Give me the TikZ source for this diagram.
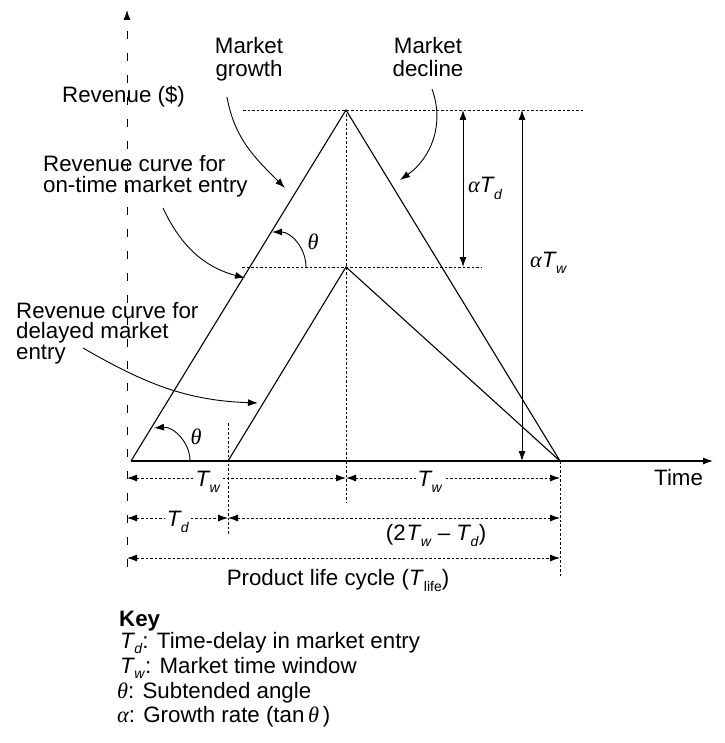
\documentclass[tikz,border=0pt]{standalone}
\usepackage{fontspec}
\setmainfont{Liberation Sans}
\newfontfamily\grk{Liberation Serif}
\usetikzlibrary{arrows.meta}
\newcommand{\Tsub}[1]{\textit{T}\kern-0.8pt\raisebox{-6.5pt}{\fontsize{14}{14}\selectfont\textit{#1}}}
\newcommand{\Tkey}[1]{\textit{T}\kern-0.8pt\raisebox{-5pt}{\fontsize{14}{14}\selectfont\textit{#1}}}
\newcommand{\gth}{{\grk\itshape θ}}
\newcommand{\gal}{{\grk\itshape α}}
\begin{document}
\begin{tikzpicture}[x=1pt,y=1pt,
  lbl/.style={font=\fontsize{22.3}{22}\selectfont, inner sep=0pt},
  dotl/.style={dash pattern=on 2.5pt off 2pt, line width=0.9pt},
  axisdash/.style={dash pattern=on 8pt off 14pt, line width=0.9pt},
  solidl/.style={line width=1.1pt},
  cuta/.style={line width=0.9pt},
  >={Latex[length=10pt,width=7pt]}]
\useasboundingbox (0,0) rectangle (724,-743);
% key points
\coordinate (O) at (131,-461);
\coordinate (A) at (346,-110);
\coordinate (E) at (560,-461);
\coordinate (D) at (228,-461);
\coordinate (B) at (346,-267);
\coordinate (ax0) at (127,-567);
\coordinate (ax1) at (127,-10);
\coordinate (tend) at (713,-461);
% axes
\draw[axisdash,->] (ax0) -- (ax1);
\draw[solidl,->] (O) -- (tend);
% guide lines
\coordinate (h1a) at (243,-110); \coordinate (h1b) at (583,-110);
\coordinate (h2a) at (242,-267); \coordinate (h2b) at (481,-267);
\coordinate (v1b) at (346,-502);
\coordinate (v2a) at (228,-423); \coordinate (v2b) at (228,-534);
\coordinate (v3b) at (560,-577);
\draw[dotl] (h1a) -- (h1b);
\draw[dotl] (h2a) -- (h2b);
\draw[dotl] (A) -- (v1b);
\draw[dotl] (v2a) -- (v2b);
\draw[dotl] (E) -- (v3b);
% triangles
\draw[solidl] (O) -- (A) -- (E);
\draw[solidl] (D) -- (B) -- (E);
% vertical dimension arrows
\coordinate (d1a) at (463,-110); \coordinate (d1b) at (463,-267);
\coordinate (d2a) at (522,-110); \coordinate (d2b) at (522,-461);
\draw[cuta,<->] (d1a) -- (d1b);
\draw[cuta,<->] (d2a) -- (d2b);
\node[lbl,anchor=base west] (aTd) at (468,-193) {\gal\Tsub{d}};
\node[lbl,anchor=base west] (aTw) at (530,-267) {\gal\Tsub{w}};
% horizontal dimension rows
\coordinate (r1a) at (127,-478); \coordinate (r1m) at (346,-478); \coordinate (r1b) at (560,-478);
\coordinate (r2a) at (127,-518); \coordinate (r2m) at (228,-518); \coordinate (r2b) at (560,-518);
\coordinate (r3a) at (127,-558); \coordinate (r3b) at (560,-558);
\draw[dotl,<->] (r1a) -- (r1m);
\draw[dotl,<->] (r1m) -- (r1b);
\draw[dotl,<->] (r2a) -- (r2m);
\draw[dotl,<->] (r2m) -- (r2b);
\draw[dotl,<->] (r3a) -- (r3b);
\node[lbl,anchor=base,fill=white,inner sep=2pt] (tw1) at (208,-486) {\Tsub{w}};
\node[lbl,anchor=base,fill=white,inner sep=2pt] (tw2) at (430,-486) {\Tsub{w}};
\node[lbl,anchor=base,fill=white,inner sep=2pt] (td1) at (178,-526) {\Tsub{d}};
\node[lbl,anchor=base] (twd) at (436,-540) {(2\kern1pt\Tsub{w} – \Tsub{d})};
\node[lbl,anchor=base] (plc) at (338,-585) {Product life cycle (\textit{T}\raisebox{-6pt}{\fontsize{14}{14}\selectfont life})};
% angles
\coordinate (th1a) at (190,-461); \coordinate (th1b) at (154,-428);
\coordinate (th2a) at (306,-267); \coordinate (th2b) at (272,-232);
\draw[cuta,->] (th1a) to[out=90,in=5] (th1b);
\draw[cuta,->] (th2a) to[out=90,in=0] (th2b);
\node[lbl] (th1) at (196,-437) {\gth};
\node[lbl] (th2) at (313,-242) {\gth};
% labels
\node[lbl,anchor=base west] (rev) at (62,-103) {Revenue (\$)};
\node[lbl,anchor=base] (mg1) at (249,-54) {Market};
\node[lbl,anchor=base] (mg2) at (249,-77) {growth};
\node[lbl,anchor=base] (md1) at (428,-54) {Market};
\node[lbl,anchor=base] (md2) at (428,-77) {decline};
\node[lbl,anchor=base west] (ot1) at (43,-172) {Revenue curve for};
\node[lbl,anchor=base west] (ot2) at (43,-193) {on-time market entry};
\node[lbl,anchor=base west] (de1) at (16,-318) {Revenue curve for};
\node[lbl,anchor=base west] (de2) at (16,-338) {delayed market};
\node[lbl,anchor=base west] (de3) at (16,-359) {entry};
\node[lbl,anchor=base west] (time) at (654,-485) {Time};
% curved pointers
\coordinate (c1a) at (227,-97);  \coordinate (c1b) at (285,-188);
\coordinate (c2a) at (432,-89);  \coordinate (c2b) at (400,-180);
\coordinate (c3a) at (163,-208); \coordinate (c3b) at (245,-278);
\coordinate (c4a) at (83,-348);  \coordinate (c4b) at (258,-403);
\draw[cuta,->] (c1a) to[out=-80,in=135] (c1b);
\draw[cuta,->] (c2a) to[out=-70,in=35] (c2b);
\draw[cuta,->] (c3a) to[out=-65,in=165] (c3b);
\draw[cuta,->] (c4a) to[out=-30,in=178] (c4b);
% key
\node[lbl,anchor=base west,font=\fontsize{22.3}{22}\selectfont\bfseries] (key) at (119,-626) {Key};
\node[lbl,anchor=base west] (k1) at (120,-648) {\Tkey{d}: Time-delay in market entry};
\node[lbl,anchor=base west] (k2) at (120,-673) {\Tkey{w}: Market time window};
\node[lbl,anchor=base west] (k3) at (117,-698) {\gth: Subtended angle};
\node[lbl,anchor=base west] (k4) at (117,-722) {\gal: Growth rate (tan\,\gth\,)};
\end{tikzpicture}
\end{document}
